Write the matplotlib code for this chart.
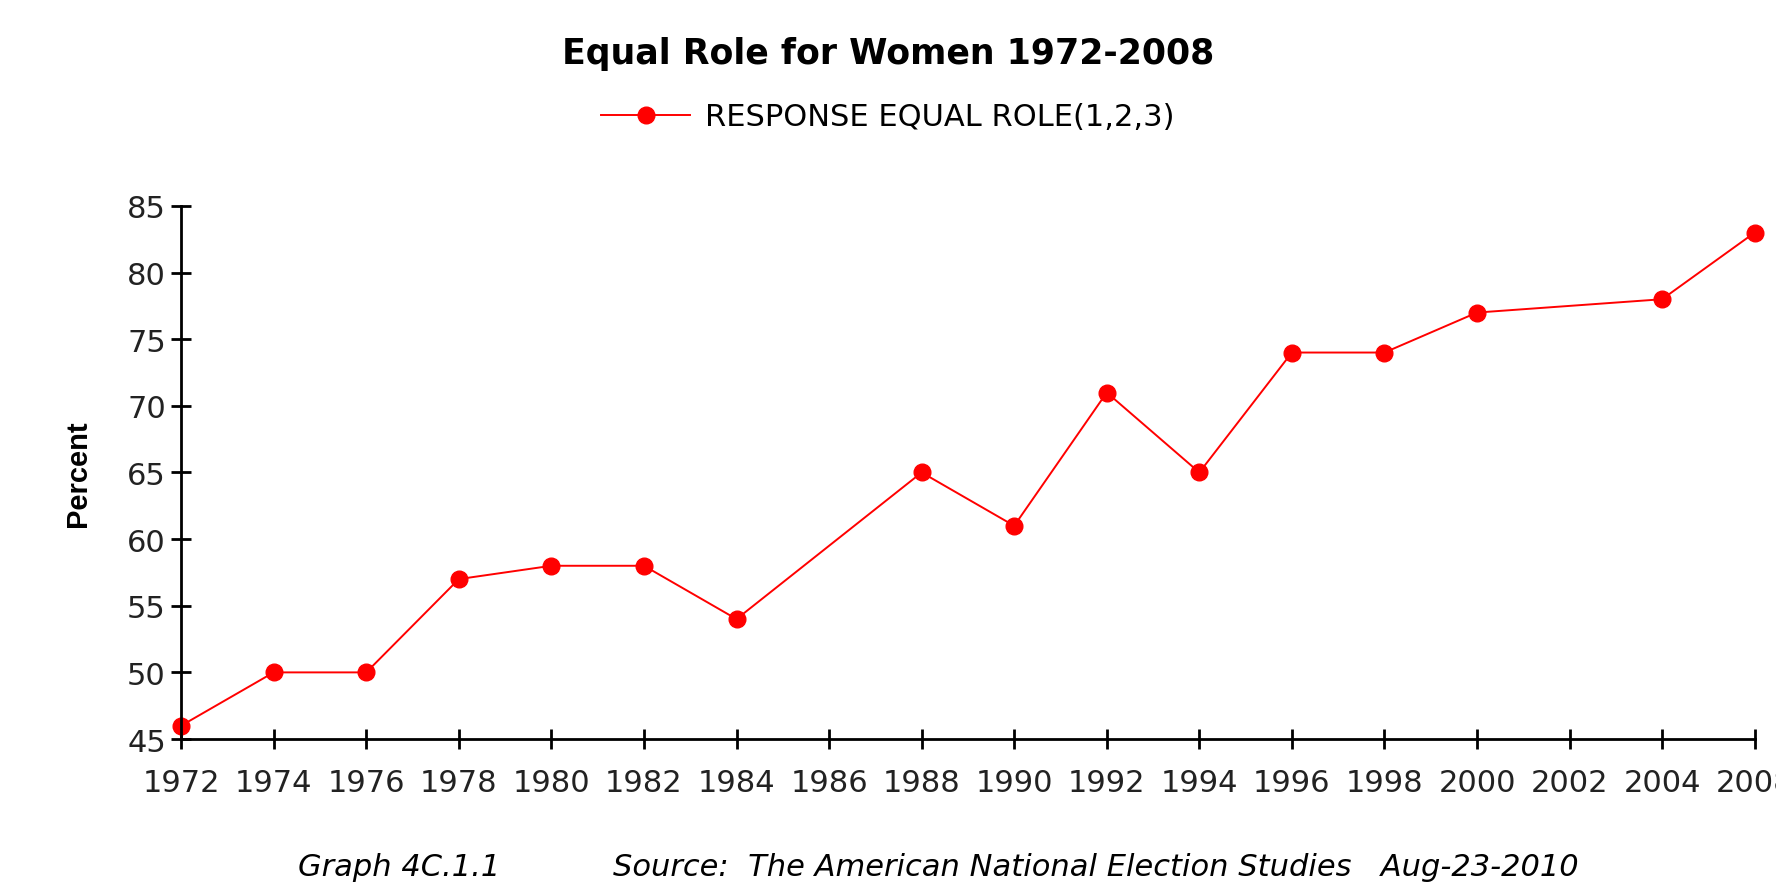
import matplotlib.pyplot as plt

# Data
years = [1972, 1974, 1976, 1978, 1980, 1982, 1984, 1988, 1990, 1992,
         1994, 1996, 1998, 2000, 2004, 2008]
percent = [46, 50, 50, 57, 58, 58, 54, 65, 61, 71,
           65, 74, 74, 77, 78, 83]
# category axis as in the original: no 2006 slot
x_labels = [1972, 1974, 1976, 1978, 1980, 1982, 1984, 1986, 1988, 1990,
            1992, 1994, 1996, 1998, 2000, 2002, 2004, 2008]
y_ticks = [45, 50, 55, 60, 65, 70, 75, 80, 85]

xpos = [x_labels.index(y) for y in years]

fig = plt.figure(figsize=(17.76, 8.87), dpi=100)
ax = fig.add_axes([0.102, 0.1657, 0.886, 0.601])

line, = ax.plot(xpos, percent, color='red', linewidth=1.4, marker='o',
                markersize=12, markeredgecolor='red', markerfacecolor='red',
                clip_on=False, label='RESPONSE EQUAL ROLE(1,2,3)')

ax.set_xlim(0, len(x_labels) - 1)
ax.set_ylim(45, 85)
ax.set_xticks(range(len(x_labels)))
ax.set_xticklabels([str(v) for v in x_labels])
ax.set_yticks(y_ticks)

for s in ['top', 'right']:
    ax.spines[s].set_visible(False)
for s in ['left', 'bottom']:
    ax.spines[s].set_linewidth(2)

ax.tick_params(axis='both', direction='inout', length=14, width=2,
               labelsize=22, colors='black')
ax.tick_params(axis='x', pad=14)
ax.tick_params(axis='y', pad=4)
for lab in ax.get_xticklabels() + ax.get_yticklabels():
    lab.set_fontfamily('DejaVu Sans')
    lab.set_color('#222222')

ax.set_ylabel('Percent', fontsize=21, fontweight='bold',
              family='Liberation Sans', labelpad=25)

fig.suptitle('Equal Role for Women 1972-2008', y=0.958, fontsize=25,
             fontweight='bold', family='DejaVu Sans')

fig.legend(handles=[line], loc='center', bbox_to_anchor=(0.5, 0.867),
           frameon=False, handlelength=2.9, handletextpad=0.5,
           prop={'family': 'DejaVu Sans', 'size': 22})

fig.text(0.168, 0.0215, 'Graph 4C.1.1', fontsize=22, style='italic',
         family='DejaVu Sans', va='center')
fig.text(0.345, 0.0215,
         'Source:  The American National Election Studies   Aug-23-2010',
         fontsize=22, style='italic', family='DejaVu Sans', va='center')

plt.savefig('out.png', dpi=100)
